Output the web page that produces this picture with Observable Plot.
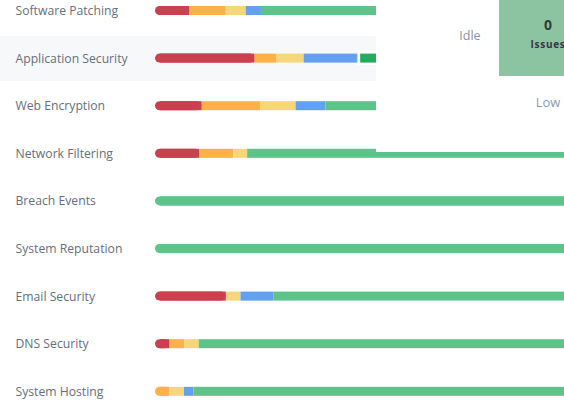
<!DOCTYPE html>
<html>
<head>
<meta charset="utf-8">
<script src="https://cdn.jsdelivr.net/npm/d3@7"></script>
<script src="https://cdn.jsdelivr.net/npm/@observablehq/plot@0.6"></script>
<style>
  html, body { margin: 0; padding: 0; overflow: hidden; background: #fff; }
  #wrap { position: relative; width: 564px; height: 401px; overflow: hidden; font-family: "Open Sans", sans-serif; }
  #chart svg { display: block; }
  #panel { position: absolute; left: 376px; top: 0; width: 220px; height: 152px; background: #fff; }
  #panel .idle { position: absolute; left: 64px; top: 27px; width: 60px; text-align: center; font-size: 12.5px; color: #8a93a4; }
  #panel .cell { position: absolute; left: 123px; top: 0; width: 98px; height: 76px; background: #8cc4a1; }
  #panel .num { position: absolute; left: 0; top: 15px; width: 98px; text-align: center; font-size: 14px; font-weight: 700; color: #2f3c3a; }
  #panel .iss { position: absolute; left: 0; top: 37px; width: 98px; text-align: center; font-size: 10px; font-weight: 700; letter-spacing: 0.7px; color: #3a3447; }
  #panel .low { position: absolute; left: 123px; top: 93px; width: 98px; text-align: center; font-size: 13px; color: #8c9ab0; }
</style>
</head>
<body>
<div id="wrap">
  <div id="chart"></div>
  <div id="panel">
    <div class="idle">Idle</div>
    <div class="cell"><div class="num">0</div><div class="iss">Issues</div></div>
    <div class="low">Low</div>
  </div>
</div>
<script>
// Categories (rows, top to bottom)
const categories = ["Software Patching", "Application Security", "Web Encryption", "Network Filtering",
  "Breach Events", "System Reputation", "Email Security", "DNS Security", "System Hosting"];
// Share of each severity level per row (percent of the bar)
const critical = [7.2, 20.9, 9.8, 9.3, 0, 0, 14.9, 3.0, 0];
const high     = [7.7, 4.7, 12.3, 7.2, 0, 0, 0, 3.1, 3.0];
const medium   = [4.2, 5.7, 7.5, 2.9, 0, 0, 3.1, 3.1, 3.1];
const low      = [3.2, 11.2, 6.3, 0, 0, 0, 6.9, 0, 2.0];
const good     = [77.7, 57.5, 64.1, 80.6, 100, 100, 75.1, 90.8, 91.9];
const levels = ["Critical", "High", "Medium", "Low", "Good"];
const levelColors = ["#c9404f", "#fdb146", "#f6d67b", "#63a0ef", "#5dc389"];
const hoveredRow = "Application Security";
const hoveredLevel = "Good";

const series = [critical, high, medium, low, good];
const segments = [];
categories.forEach((cat, i) => {
  let acc = 0;
  series.forEach((s, j) => {
    const v = s[i];
    if (v > 0) {
      segments.push({cat, level: levels[j], x1: acc, x2: acc + v, first: acc === 0});
      acc += v;
    }
  });
});
const firstSegs = segments.filter(d => d.first);
const hovered = segments.filter(d => d.cat === hoveredRow && d.level === hoveredLevel);

const barInset = 19.3;
const plot = Plot.plot({
  width: 564,
  height: 401,
  marginLeft: 0, marginRight: 0, marginTop: 0, marginBottom: 0,
  x: {domain: [0, 100], range: [155, 630], axis: null},
  y: {type: "band", domain: categories, range: [-13.3, 415.1], padding: 0, round: false, axis: null},
  color: {domain: levels, range: levelColors},
  marks: [
    Plot.ruleY([hoveredRow], {y: d => d, stroke: "#f7f8fa", strokeWidth: 45}),
    Plot.text(categories, {y: d => d, frameAnchor: "left", dx: 15, textAnchor: "start",
      fill: "#676e7d", fontSize: 12.2, fontFamily: "Open Sans"}),
    Plot.barX(segments.filter(d => !d.first), {x1: "x1", x2: "x2", y: "cat", fill: "level",
      insetTop: barInset, insetBottom: barInset}),
    Plot.barX(firstSegs, {x1: "x1", x2: "x2", y: "cat", fill: "level", rx: 4.6,
      insetTop: barInset, insetBottom: barInset}),
    Plot.barX(firstSegs, {x1: "x1", x2: "x2", y: "cat", fill: "level", insetLeft: 5,
      insetTop: barInset, insetBottom: barInset}),
    Plot.barX(hovered, {x1: "x1", x2: "x2", y: "cat", fill: "white", ariaLabel: "hover-frame",
      insetLeft: 0.6, insetTop: barInset - 2.5, insetBottom: barInset - 2.5}),
    Plot.barX(hovered, {x1: "x1", x2: "x2", y: "cat", fill: "#26ab5e",
      insetLeft: 3.3, insetTop: barInset, insetBottom: barInset})
  ]
});
d3.select(plot).selectAll('g[aria-label="hover-frame"]')
  .style("filter", "drop-shadow(0px 1px 4px rgba(0,0,0,0.18))");
document.getElementById("chart").appendChild(plot);
</script>
</body>
</html>
